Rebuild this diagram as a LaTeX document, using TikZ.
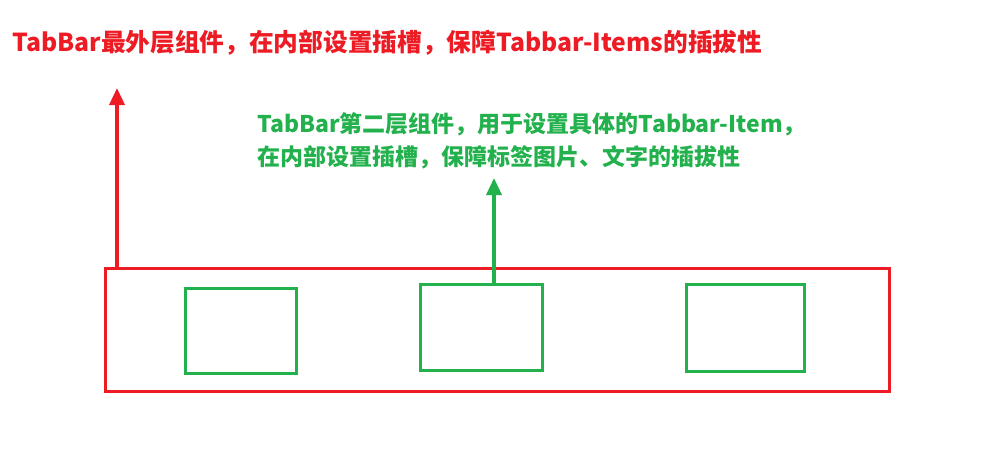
\documentclass[tikz,border=0pt]{standalone}
\usepackage{fontspec}
\newfontfamily\cjk{Noto Sans CJK SC}
\usetikzlibrary{positioning,arrows.meta}
\definecolor{tabred}{RGB}{237,28,36}
\definecolor{tabgreen}{RGB}{34,177,76}
\tikzset{
  barbox/.style={draw=tabred, line width=3pt, inner sep=0pt},
  itembox/.style={draw=tabgreen, line width=3pt, inner sep=0pt},
  note/.style={font=\cjk\bfseries\fontsize{23}{33}\selectfont, inner sep=0pt, align=left, anchor=base west},
  uparrow/.style={line width=3.5pt, -{Triangle[width=15pt,length=17pt]}}
}

\begin{document}
\begin{tikzpicture}[x=1pt,y=-1pt]
\useasboundingbox (0,0) rectangle (993,467);
% outer TabBar and its three items
\node[barbox, minimum width=784pt, minimum height=123pt] (tabbar) at (497,329.5) {};
\node[itembox, minimum width=111pt, minimum height=85pt] (item1) at (240.5,330.5) {};
\node[itembox, minimum width=122pt, minimum height=86pt] (item2) at (481.5,327.5) {};
\node[itembox, minimum width=118pt, minimum height=87pt] (item3) at (745,328) {};
% notes
\node[note, text=tabred, font=\cjk\bfseries\fontsize{24.7}{33}\selectfont] (barnote) at (12,51) {TabBar最外层组件，在内部设置插槽，保障Tabbar-Items的插拔性};
\node[note, text=tabgreen] (itemnote) at (257,165) {TabBar第二层组件，用于设置具体的Tabbar-Item，\\在内部设置插槽，保障标签图片、文字的插拔性};
% arrows up to the notes
\coordinate (redtip) at (117,88);
\coordinate (greentip) at (494,178);
\draw[uparrow, tabred] (tabbar.north -| redtip) -- (redtip);
\draw[uparrow, tabgreen] (item2.north -| greentip) -- (greentip);
\end{tikzpicture}
\end{document}
